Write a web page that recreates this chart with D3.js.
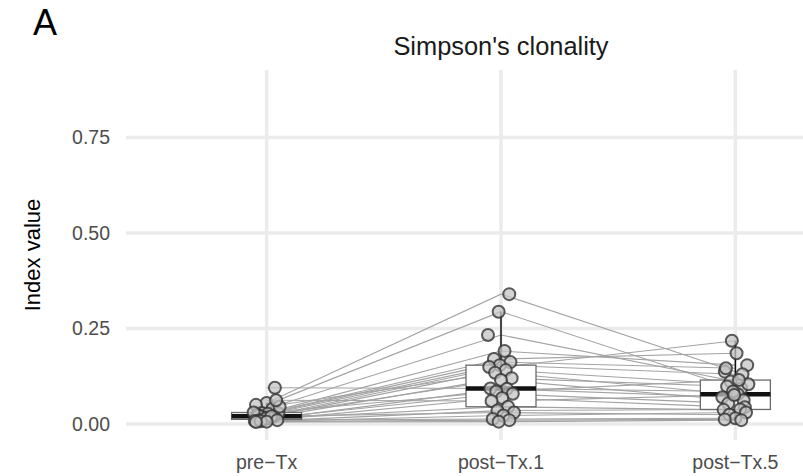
<!DOCTYPE html>
<html lang="en">
  <head>
    <meta charset="utf-8">
    <title>Simpson's clonality</title>
    <script src="https://d3js.org/d3.v7.min.js"></script>
    <style>
      body { margin: 0; background: #fff; }
      #chart text { font-family: "Liberation Sans", Arial, sans-serif; }
    </style>
  </head>
  <body>
    <div id="chart"></div>
    <script type="text/javascript">
      "use strict"
      // one value per patient, same order in every array
      var grupos = ['pre\u2212Tx', 'post\u2212Tx.1', 'post\u2212Tx.5']
      var preTx = [0.055, 0.050, 0.040, 0.029, 0.028, 0.027, 0.025, 0.020, 0.018, 0.045,
                   0.016, 0.022, 0.095, 0.012, 0.030, 0.015, 0.010, 0.062, 0.014, 0.008,
                   0.020, 0.007, 0.010, 0.006, 0.005]
      var postTx1 = [0.340, 0.294, 0.233, 0.191, 0.170, 0.162, 0.154, 0.149, 0.141, 0.134,
                     0.120, 0.115, 0.093, 0.092, 0.085, 0.079, 0.068, 0.060, 0.045, 0.035,
                     0.030, 0.022, 0.013, 0.010, 0.006]
      var postTx5 = [0.137, 0.093, 0.111, 0.154, 0.185, 0.146, 0.130, 0.218, 0.104, 0.078,
                     0.098, 0.062, 0.085, 0.070, 0.115, 0.054, 0.044, 0.076, 0.037, 0.038,
                     0.024, 0.030, 0.015, 0.012, 0.010]
      var yTicks = [0, 0.25, 0.5, 0.75]

      var series = [preTx, postTx1, postTx5]

      var larguraSVG = 803, alturaSVG = 476
      var painel = {left: 126, right: 876, top: 70, bottom: 440}

      var svg = d3.select('#chart')
        .append('svg')
          .attr('width', larguraSVG)
          .attr('height', alturaSVG)

      /*
       * escalas
       */
      var x = d3.scalePoint()
        .domain(grupos)
        .range([painel.left, painel.right])
        .padding(0.6)
      var y = d3.scaleLinear()
        .domain([-0.042, 0.927])
        .range([painel.bottom, painel.top])

      // jitter horizontal fixo (nao aleatorio) para os pontos
      var jitter = function(i, g) {
        var h = ((i * 37 + g * 53 + 11) % 23) / 22 - 0.5
        return h * 26
      }

      /*
       * grade
       */
      var grade = svg.append('g')
      grade.selectAll('line.h')
        .data(yTicks)
        .enter().append('line')
          .attr('x1', painel.left).attr('x2', painel.right)
          .attr('y1', d => y(d)).attr('y2', d => y(d))
          .attr('stroke', '#ebebeb').attr('stroke-width', 3.5)
      grade.selectAll('line.v')
        .data(grupos)
        .enter().append('line')
          .attr('x1', d => x(d)).attr('x2', d => x(d))
          .attr('y1', painel.top).attr('y2', painel.bottom)
          .attr('stroke', '#ebebeb').attr('stroke-width', 3.5)

      /*
       * linhas ligando cada paciente
       */
      var pacientes = preTx.map((v, i) => series.map((s, g) => [grupos[g], s[i]]))
      var linha = d3.line().x(d => x(d[0])).y(d => y(d[1]))
      svg.append('g')
        .selectAll('path')
        .data(pacientes)
        .enter().append('path')
          .attr('d', linha)
          .attr('fill', 'none')
          .attr('stroke', '#a3a3a3')
          .attr('stroke-width', 1.1)

      /*
       * boxplots
       */
      var caixas = series.map(function(s, g) {
        var ord = s.slice().sort(d3.ascending)
        var q1 = d3.quantile(ord, 0.25), q2 = d3.quantile(ord, 0.5), q3 = d3.quantile(ord, 0.75)
        var iqr = q3 - q1
        return {
          grupo: grupos[g], q1: q1, q2: q2, q3: q3,
          hi: d3.max(ord.filter(v => v <= q3 + 1.5 * iqr)),
          lo: d3.min(ord.filter(v => v >= q1 - 1.5 * iqr))
        }
      })
      var larguraCaixa = 70
      var box = svg.append('g').selectAll('g')
        .data(caixas)
        .enter().append('g')
      box.append('line')
        .attr('x1', d => x(d.grupo)).attr('x2', d => x(d.grupo))
        .attr('y1', d => y(d.q3)).attr('y2', d => y(d.hi))
        .attr('stroke', '#111').attr('stroke-width', 1.5)
      box.append('line')
        .attr('x1', d => x(d.grupo)).attr('x2', d => x(d.grupo))
        .attr('y1', d => y(d.q1)).attr('y2', d => y(d.lo))
        .attr('stroke', '#111').attr('stroke-width', 1.5)
      box.append('rect')
        .attr('x', d => x(d.grupo) - larguraCaixa / 2)
        .attr('width', larguraCaixa)
        .attr('y', d => y(d.q3))
        .attr('height', d => y(d.q1) - y(d.q3))
        .attr('fill', '#fff')
        .attr('stroke', '#6b6b6b').attr('stroke-width', 1.3)
      box.append('line')
        .attr('x1', d => x(d.grupo) - larguraCaixa / 2).attr('x2', d => x(d.grupo) + larguraCaixa / 2)
        .attr('y1', d => y(d.q2)).attr('y2', d => y(d.q2))
        .attr('stroke', '#111').attr('stroke-width', 4.5)

      /*
       * pontos
       */
      var pontos = []
      series.forEach((s, g) => s.forEach((v, i) => pontos.push({g: g, i: i, v: v})))
      svg.append('g')
        .selectAll('circle')
        .data(pontos)
        .enter().append('circle')
          .attr('cx', d => x(grupos[d.g]) + jitter(d.i, d.g))
          .attr('cy', d => y(d.v))
          .attr('r', 6)
          .attr('fill', '#c4c4c4')
          .attr('fill-opacity', 0.75)
          .attr('stroke', '#333')
          .attr('stroke-opacity', 0.8)
          .attr('stroke-width', 2)

      /*
       * eixos (so os textos, estilo theme_minimal)
       */
      svg.append('g')
        .selectAll('text')
        .data(yTicks)
        .enter().append('text')
          .attr('x', 110)
          .attr('y', d => y(d))
          .attr('dy', '0.35em')
          .attr('text-anchor', 'end')
          .attr('fill', '#4d4d4d')
          .style('font-size', '19.5px')
          .text(d => d3.format('.2f')(d))
      svg.append('g')
        .selectAll('text')
        .data(grupos)
        .enter().append('text')
          .attr('x', d => x(d))
          .attr('y', 469)
          .attr('text-anchor', 'middle')
          .attr('fill', '#4d4d4d')
          .style('font-size', '19.5px')
          .text(d => d)

      svg.append('text')
        .attr('transform', 'translate(40,255) rotate(-90)')
        .attr('text-anchor', 'middle')
        .attr('fill', '#000')
        .style('font-size', '22px')
        .text('Index value')

      svg.append('text')
        .attr('x', (painel.left + painel.right) / 2)
        .attr('y', 55)
        .attr('text-anchor', 'middle')
        .attr('fill', '#1a1a1a')
        .style('font-size', '25.4px')
        .text("Simpson's clonality")

      svg.append('text')
        .attr('x', 33)
        .attr('y', 35)
        .attr('fill', '#000')
        .style('font-size', '36px')
        .text('A')
    </script>
  </body>
</html>
